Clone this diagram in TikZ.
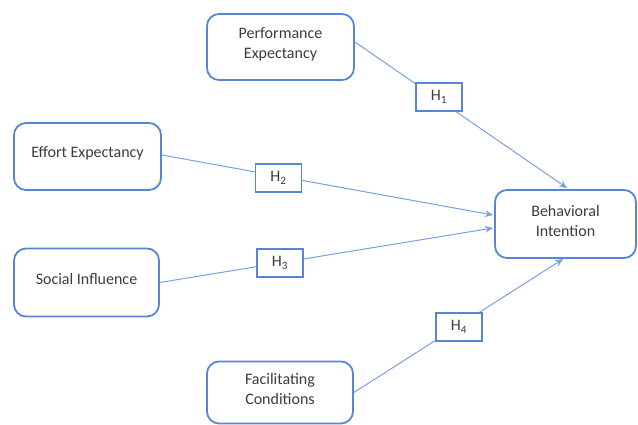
\documentclass[tikz,border=0pt]{standalone}
\usepackage{fontspec}
\setmainfont{Carlito}
\usetikzlibrary{arrows.meta,calc}
\definecolor{boxblue}{RGB}{88,134,212}
\definecolor{lineblue}{RGB}{122,160,224}
\definecolor{txt}{RGB}{60,60,60}
\begin{document}
\begin{tikzpicture}[x=1pt,y=-1pt,
  construct/.style={draw=boxblue,line width=1.8pt,rounded corners=12pt,fill=white,
    inner sep=0pt,
    label={[align=center,text=txt,font=\fontsize{16}{20}\selectfont,inner sep=0pt,yshift=3pt]center:#1}},
  hyp/.style={draw=boxblue,line width=1.3pt,fill=white,minimum width=46pt,minimum height=28pt,
    inner sep=0pt,text=txt,font=\fontsize{16}{18}\selectfont},
  conn/.style={draw=lineblue,line width=1pt,-{Stealth[length=8pt,width=7pt]}}]
\useasboundingbox (0,0) rectangle (638,425);
\node[construct={Performance\\Expectancy},minimum width=147pt,minimum height=66pt] (pe) at (280.5,47) {};
\node[construct={Effort Expectancy},minimum width=147pt,minimum height=67pt] (ee) at (87.5,156.5) {};
\node[construct={Social Influence},minimum width=145pt,minimum height=68pt] (si) at (86.5,282.5) {};
\node[construct={Facilitating\\Conditions},minimum width=146pt,minimum height=62pt] (fc) at (280,392.5) {};
\node[construct={Behavioral\\Intention},minimum width=141pt,minimum height=68pt] (bi) at (565.5,224) {};
\coordinate (t1) at (567,188);
\coordinate (t2) at (493,215);
\coordinate (t3) at (493,228);
\coordinate (t4) at (563,259);
\draw[conn] ($(pe.east)+(0,-5)$) -- (t1);
\draw[conn] ($(ee.east)+(0,-1.5)$) -- (t2);
\draw[conn] (si.east) -- (t3);
\draw[conn] (fc.east) -- (t4);
\node[hyp] (h1) at (439,97) {H\textsubscript{1}};
\node[hyp] (h2) at (278.5,178) {H\textsubscript{2}};
\node[hyp] (h3) at (280,263) {H\textsubscript{3}};
\node[hyp] (h4) at (459,327) {H\textsubscript{4}};
\end{tikzpicture}
\end{document}
